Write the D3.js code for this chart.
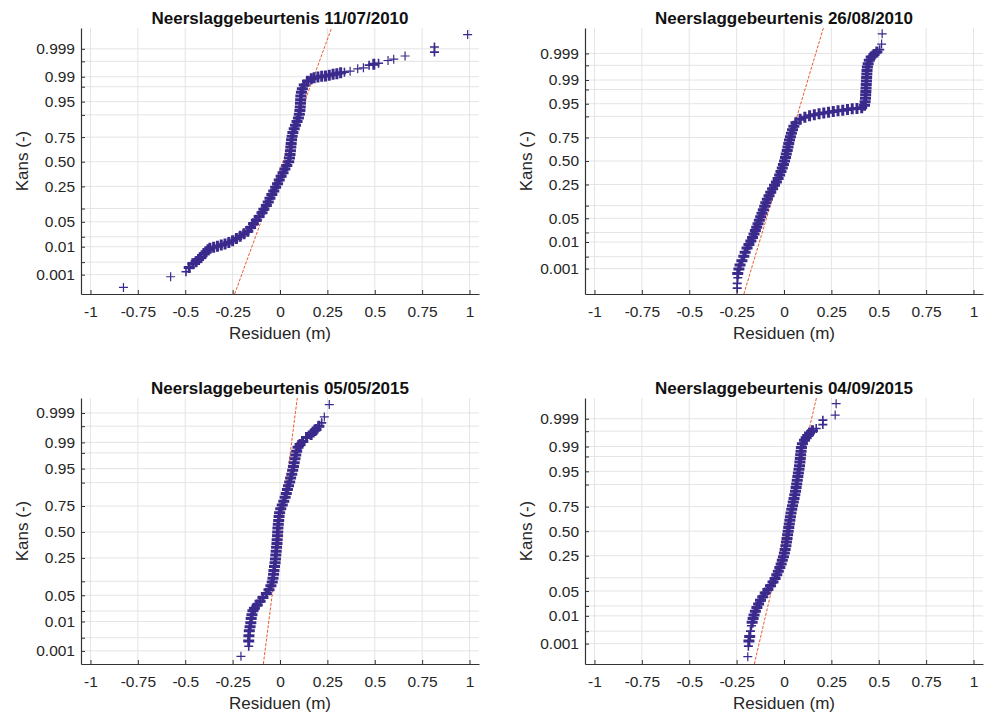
<!DOCTYPE html>
<html><head><meta charset="utf-8">
<script src="https://cdn.jsdelivr.net/npm/d3@7"></script>
<style>
body{margin:0;background:#fff}
svg{display:block}
text{font-family:"Liberation Sans",Arial,Helvetica,sans-serif}
</style>
</head><body>
<svg id="chart" width="993" height="716"></svg>
<script>
// ---------- DATA ----------
const titles = ["Neerslaggebeurtenis 11/07/2010","Neerslaggebeurtenis 26/08/2010","Neerslaggebeurtenis 05/05/2015","Neerslaggebeurtenis 04/09/2015"];
const xLabel = "Residuen (m)";
const yLabel = "Kans (-)";

const xTicks = [-1,-0.75,-0.5,-0.25,0,0.25,0.5,0.75,1];
const xTickLabels = ["-1","-0.75","-0.5","-0.25","0","0.25","0.5","0.75","1"];
const yTicks = [0.001,0.003,0.01,0.02,0.05,0.10,0.25,0.50,0.75,0.90,0.95,0.98,0.99,0.997,0.999];
const yTickLabels = ["0.001","","0.01","","0.05","","0.25","0.50","0.75","","0.95","","0.99","","0.999"];

// Panel 1: 11/07/2010
const resid1 = [-0.826,-0.577,-0.496,-0.479,-0.46,-0.443,-0.43,-0.417,-0.40,-0.39,-0.38,-0.37,-0.35,-0.33,-0.31,-0.29,-0.27,-0.25,-0.23,-0.21,-0.19,-0.17,-0.155,-0.14,-0.125,-0.11,-0.095,-0.085,-0.072,-0.062,-0.053,-0.043,-0.033,-0.023,-0.013,-0.004,0.006,0.016,0.026,0.036,0.046,0.05,0.053,0.055,0.057,0.059,0.061,0.064,0.068,0.075,0.082,0.09,0.097,0.102,0.105,0.107,0.108,0.109,0.11,0.113,0.118,0.128,0.145,0.165,0.18,0.20,0.22,0.24,0.26,0.28,0.30,0.32,0.34,0.37,0.41,0.44,0.47,0.495,0.52,0.57,0.60,0.66,0.815,0.815,0.99];
const prob1  = [0.00029,0.00082,0.0013,0.0019,0.0026,0.0031,0.0037,0.0044,0.0059,0.0069,0.0080,0.0089,0.0096,0.0104,0.0113,0.0122,0.0136,0.0154,0.0179,0.0207,0.0244,0.0287,0.0359,0.0446,0.0548,0.0668,0.0808,0.0968,0.1151,0.1357,0.1587,0.1841,0.2119,0.2420,0.2743,0.3085,0.3446,0.3821,0.4207,0.4602,0.5,0.5398,0.5793,0.6179,0.6554,0.6915,0.7257,0.7580,0.7881,0.8159,0.8413,0.8643,0.8849,0.9032,0.9192,0.9332,0.9452,0.9554,0.9641,0.9713,0.9772,0.9821,0.9861,0.9884,0.9893,0.9898,0.9904,0.9906,0.9911,0.9916,0.9920,0.9925,0.9929,0.9934,0.9945,0.9949,0.9959,0.9962,0.9965,0.9972,0.9975,0.9981,0.99865,0.99916,0.99975];

// Panel 2: 26/08/2010
const resid2 = [-0.247,-0.247,-0.244,-0.244,-0.238,-0.232,-0.222,-0.212,-0.205,-0.195,-0.185,-0.175,-0.166,-0.158,-0.151,-0.144,-0.137,-0.130,-0.123,-0.116,-0.109,-0.102,-0.096,-0.088,-0.079,-0.070,-0.060,-0.050,-0.040,-0.031,-0.023,-0.016,-0.009,-0.003,0.003,0.008,0.012,0.017,0.021,0.025,0.029,0.034,0.039,0.045,0.052,0.063,0.085,0.11,0.135,0.16,0.185,0.21,0.235,0.26,0.285,0.31,0.335,0.36,0.385,0.41,0.425,0.428,0.43,0.431,0.432,0.433,0.434,0.435,0.436,0.437,0.438,0.44,0.444,0.45,0.46,0.475,0.49,0.505,0.515,0.518];
const prob2  = [0.00013,0.00022,0.00040,0.00062,0.00097,0.0014,0.0021,0.0031,0.0044,0.0062,0.0082,0.0107,0.0139,0.0179,0.0228,0.0287,0.0359,0.0446,0.0548,0.0668,0.0808,0.0968,0.1151,0.1357,0.1587,0.1841,0.2119,0.2420,0.2743,0.3085,0.3446,0.3821,0.4207,0.4602,0.5,0.5398,0.5793,0.6179,0.6554,0.6915,0.7257,0.7580,0.7881,0.8159,0.8413,0.8643,0.8849,0.8962,0.9032,0.9082,0.9131,0.9162,0.9192,0.9222,0.9251,0.9279,0.9306,0.9332,0.9345,0.9370,0.9452,0.9554,0.9641,0.9713,0.9772,0.9821,0.9861,0.9893,0.9918,0.9938,0.9953,0.9965,0.9974,0.9981,0.9986,0.99889,0.99913,0.99931,0.99961,0.99987];

// Panel 3: 05/05/2015
const resid3 = [-0.206,-0.165,-0.165,-0.164,-0.162,-0.158,-0.154,-0.152,-0.148,-0.143,-0.135,-0.12,-0.105,-0.09,-0.072,-0.058,-0.048,-0.041,-0.037,-0.034,-0.032,-0.029,-0.026,-0.024,-0.022,-0.02,-0.018,-0.016,-0.015,-0.013,-0.012,-0.011,-0.009,-0.007,-0.005,-0.002,0.004,0.012,0.02,0.027,0.033,0.039,0.045,0.051,0.056,0.062,0.067,0.071,0.075,0.079,0.083,0.088,0.095,0.106,0.12,0.14,0.164,0.175,0.19,0.205,0.22,0.234,0.26];
const prob3  = [0.00062,0.0015,0.0023,0.0035,0.0051,0.0069,0.0091,0.0122,0.0158,0.0202,0.0239,0.0287,0.0359,0.0446,0.0548,0.0668,0.0808,0.0968,0.1151,0.1357,0.1587,0.1841,0.2119,0.2420,0.2743,0.3085,0.3446,0.3821,0.4207,0.4602,0.5,0.5398,0.5793,0.6179,0.6554,0.6915,0.7257,0.7580,0.7881,0.8159,0.8413,0.8643,0.8849,0.9032,0.9192,0.9332,0.9452,0.9554,0.9641,0.9713,0.9772,0.9821,0.9861,0.9884,0.9906,0.9929,0.9943,0.9953,0.9961,0.9970,0.9977,0.9986,0.99953];

// Panel 4: 04/09/2015
const resid4 = [-0.191,-0.188,-0.185,-0.181,-0.177,-0.172,-0.168,-0.163,-0.158,-0.151,-0.143,-0.134,-0.124,-0.112,-0.099,-0.085,-0.071,-0.058,-0.047,-0.038,-0.03,-0.022,-0.015,-0.009,-0.003,0.002,0.006,0.01,0.013,0.016,0.019,0.022,0.025,0.028,0.031,0.034,0.037,0.041,0.045,0.049,0.053,0.057,0.061,0.064,0.067,0.07,0.073,0.076,0.079,0.082,0.084,0.086,0.088,0.09,0.092,0.097,0.108,0.117,0.125,0.135,0.15,0.17,0.205,0.205,0.27,0.275];
const prob4  = [0.00028,0.00079,0.00126,0.0019,0.0030,0.0047,0.0062,0.0082,0.0107,0.0139,0.0179,0.0228,0.0287,0.0359,0.0446,0.0548,0.0668,0.0808,0.0968,0.1151,0.1357,0.1587,0.1841,0.2119,0.2420,0.2743,0.3085,0.3446,0.3821,0.4207,0.4602,0.5,0.5398,0.5793,0.6179,0.6554,0.6915,0.7257,0.7580,0.7881,0.8159,0.8413,0.8643,0.8849,0.9032,0.9192,0.9332,0.9452,0.9554,0.9641,0.9713,0.9772,0.9821,0.9861,0.9893,0.9918,0.9938,0.9949,0.9957,0.9965,0.9971,0.9976,0.9983,0.99886,0.99929,0.99977];

// Reference normal fit lines (mean, std) per panel
const fitMu    = [0.015,-0.002,0.001,0.007];
const fitSigma = [0.0702,0.0549,0.0259,0.0448];
// Probability limits of each y axis
const yLimLow  = [0.000147,0.0000667,0.000302,0.000131];
const yLimHigh = [0.999874,0.9999333,0.999749,0.999874];
const xLim = [-1.05,1.05];

// ---------- helpers ----------
function qnorm(p){
  const a=[-3.969683028665376e+01,2.209460984245205e+02,-2.759285104469687e+02,1.383577518672690e+02,-3.066479806614716e+01,2.506628277459239e+00];
  const b=[-5.447609879822406e+01,1.615858368580409e+02,-1.556989798598866e+02,6.680131188771972e+01,-1.328068155288572e+01];
  const c=[-7.784894002430293e-03,-3.223964580411365e-01,-2.400758277161838e+00,-2.549732539343734e+00,4.374664141464968e+00,2.938163982698783e+00];
  const d=[7.784695709041462e-03,3.224671290700398e-01,2.445134137142996e+00,3.754408661907416e+00];
  const pl=0.02425, ph=1-pl; let q,r;
  if(p<pl){q=Math.sqrt(-2*Math.log(p));return (((((c[0]*q+c[1])*q+c[2])*q+c[3])*q+c[4])*q+c[5])/((((d[0]*q+d[1])*q+d[2])*q+d[3])*q+1);}
  if(p<=ph){q=p-0.5;r=q*q;return (((((a[0]*r+a[1])*r+a[2])*r+a[3])*r+a[4])*r+a[5])*q/(((((b[0]*r+b[1])*r+b[2])*r+b[3])*r+b[4])*r+1);}
  q=Math.sqrt(-2*Math.log(1-p));return -(((((c[0]*q+c[1])*q+c[2])*q+c[3])*q+c[4])*q+c[5])/((((d[0]*q+d[1])*q+d[2])*q+d[3])*q+1);
}

const series = [[resid1,prob1],[resid2,prob2],[resid3,prob3],[resid4,prob4]];
const panels = [
  {x0:81, x1:479, y0:28,  y1:294},
  {x0:585,x1:983, y0:28,  y1:294},
  {x0:81, x1:479, y0:398, y1:664},
  {x0:585,x1:983, y0:398, y1:664}
];

const svg = d3.select("#chart");
const markColor = "#3b2a8c";
const axisColor = "#333333";
const gridColor = "#e4e4e4";

panels.forEach((P,i)=>{
  const w = P.x1-P.x0, h = P.y1-P.y0;
  const g = svg.append("g").attr("transform",`translate(${P.x0},${P.y0})`);
  const x = d3.scaleLinear().domain(xLim).range([0,w]);
  const y = d3.scaleLinear().domain([qnorm(yLimLow[i]), qnorm(yLimHigh[i])]).range([h,0]);
  const yp = p => y(qnorm(p));

  // grid
  g.append("g").selectAll("line").data(xTicks).join("line")
    .attr("x1",d=>x(d)).attr("x2",d=>x(d)).attr("y1",0).attr("y2",h)
    .attr("stroke",gridColor).attr("stroke-width",1);
  g.append("g").selectAll("line").data(yTicks).join("line")
    .attr("x1",0).attr("x2",w).attr("y1",d=>yp(d)).attr("y2",d=>yp(d))
    .attr("stroke",gridColor).attr("stroke-width",1);

  // clip
  const cid = "clip"+i;
  g.append("clipPath").attr("id",cid).append("rect").attr("x",0).attr("y",0).attr("width",w).attr("height",h);
  const plot = g.append("g").attr("clip-path",`url(#${cid})`);

  // fit line
  const zLo = qnorm(yLimLow[i]), zHi = qnorm(yLimHigh[i]);
  const pts = [zLo,zHi].map(z=>[x(fitMu[i]+fitSigma[i]*z), y(z)]);
  plot.append("path").attr("d",d3.line()(pts))
    .attr("fill","none").attr("stroke","#ec5a2e").attr("stroke-width",1)
    .attr("stroke-dasharray","3,1.5");

  // markers (denser clusters drawn with heavier strokes, as overlapping markers do)
  const [rs,ps] = series[i];
  const data = rs.map((r,k)=>({r, p:ps[k], px:x(r), py:yp(ps[k])}));
  data.forEach(d=>{
    d.n = data.filter(e=>e!==d && Math.hypot(e.px-d.px, e.py-d.py) < 5.5).length;
  });
  plot.append("g").selectAll("path").data(data).join("path")
    .attr("transform",d=>`translate(${d.px},${d.py})`)
    .attr("d",d=>d.n>=2 ? "M-5.5,0H5.5M0,-5.5V5.5" : "M-4.5,0H4.5M0,-4.5V4.5")
    .attr("stroke",markColor).attr("stroke-width",d=>d.n>=2 ? 3 : (d.n===1 ? 1.6 : 1.2)).attr("fill","none");

  // axes
  const xAxis = d3.axisBottom(x).tickValues(xTicks).tickFormat((d,k)=>xTickLabels[k])
    .tickSizeInner(-4).tickSizeOuter(0).tickPadding(12);
  const gx = g.append("g").attr("transform",`translate(0,${h})`).call(xAxis);
  const yAxis = d3.axisLeft(y).tickValues(yTicks.map(qnorm)).tickFormat((d,k)=>yTickLabels[k])
    .tickSizeInner(-4).tickSizeOuter(0).tickPadding(6);
  const gy = g.append("g").call(yAxis);
  [gx,gy].forEach(a=>{
    a.select(".domain").attr("stroke",axisColor).attr("stroke-width",1.2);
    a.selectAll(".tick line").attr("stroke",axisColor);
    a.selectAll(".tick text").attr("fill","#262626").style("font-size","15.5px")
      .style("font-family",'"Liberation Sans",Arial,sans-serif');
  });

  // title & labels
  g.append("text").attr("x",w/2).attr("y",-4).attr("text-anchor","middle")
    .style("font-size","17px").style("font-weight","bold").attr("fill","#111").text(titles[i]);
  g.append("text").attr("x",w/2).attr("y",h+39).attr("dy","0.35em").attr("text-anchor","middle")
    .style("font-size","17px").attr("fill","#262626").text(xLabel);
  g.append("text").attr("transform",`translate(-59,${h/2}) rotate(-90)`).attr("dy","0.35em")
    .attr("text-anchor","middle").style("font-size","17px").attr("fill","#262626").text(yLabel);
});
</script>
</body></html>
